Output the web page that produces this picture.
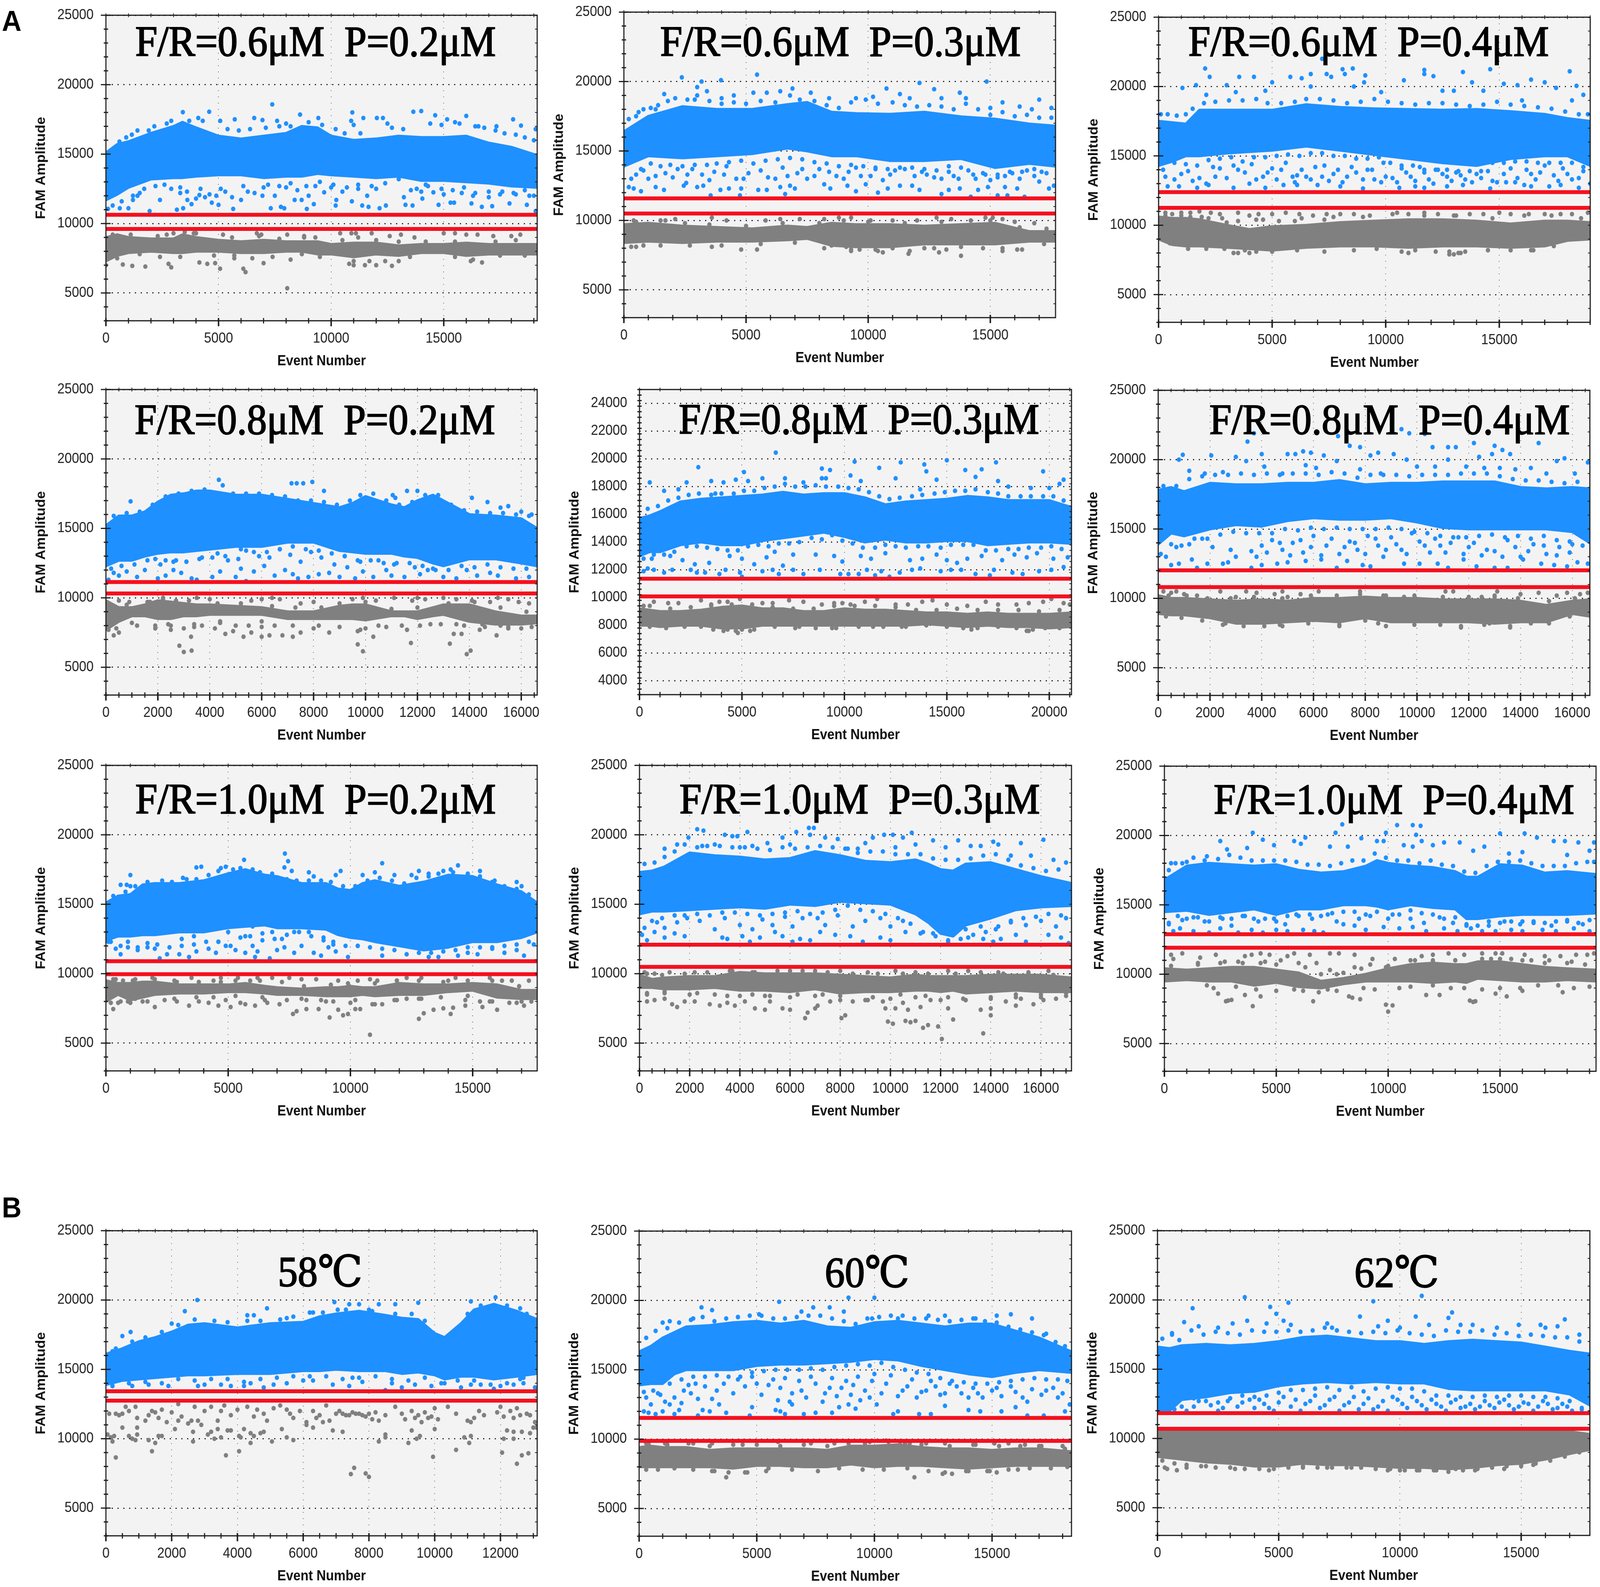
<!DOCTYPE html>
<html>
<head>
<meta charset="utf-8">
<title>FAM Amplitude</title>
<script src="https://cdn.jsdelivr.net/npm/chart.js@4"></script>
<style>
  html, body { margin: 0; background: #fff; overflow: hidden; }
  #page { position: relative; width: 4411px; height: 4062px; overflow: hidden; transform-origin: 0 0; }
  #page canvas { position: absolute; display: block; }
  .label { position: absolute; font: 110px "Liberation Serif", "DejaVu Serif", serif; color: #000; white-space: pre; -webkit-text-stroke: 2.5px #000; }
  .letter { position: absolute; font: bold 75px "Liberation Sans", sans-serif; color: #000; }
</style>
</head>
<body>
<div id="page"></div>
<script>
// values, panel by panel (dense cloud = top/low edges, the rest = single droplets)
const p1Title = 'F/R=0.6μM  P=0.2μM';
const p1Gates = [10630, 9610];
const p1Events = [0,500,1000,2000,3000,3400,4000,5000,6000,7000,8000,8700,9400,10000,11000,12000,13000,14000,15000,16000,17000,18000,19150];
const p1BlueTop = [15100,15700,15900,16500,17000,17300,16900,16300,16100,16300,16500,17000,16900,16300,16000,16100,16300,16200,16200,16300,15800,15500,14900];
const p1BlueLow = [11700,12100,12600,13200,13300,13300,13400,13500,13500,13300,13400,13400,13600,13500,13400,13300,13400,13100,13100,13000,12900,12700,12600];
const p1GrayTop = [9000,9200,9000,8900,8900,9200,9000,8800,8700,8800,8700,8700,8700,8500,8600,8600,8400,8500,8500,8600,8500,8500,8500];
const p1GrayLow = [7300,7700,7900,8000,7900,7900,8000,8000,7900,7900,8000,8000,7800,7800,7600,7800,7700,7900,7900,7700,7800,7800,7800];
const p1BlueEdge = [[600,15900],[900,16200],[1150,16400],[1400,16700],[1900,16700],[2150,17000],[2700,17200],[2900,17400],[3700,17400],[4300,17400],[5400,16800],[5900,16700],[6400,16800],[7100,16900],[7700,17000],[8000,17200],[8200,17000],[9000,17300],[9600,17100],[10200,16800],[10600,16500],[11300,16500],[12500,17200],[12700,16900],[13200,16800],[14400,17200],[14900,17100],[15700,17200],[16400,17000],[16800,16900],[17300,16700],[17700,16500],[18200,16400],[18600,16200],[19000,16000],
  [300,11300],[700,11600],[1200,11700],[1400,12000],[1700,12500],[2200,12700],[2600,12800],[3300,12600],[3600,12300],[4200,12500],[4600,12100],[5100,12500],[5600,11900],[6100,12700],[6600,12200],[7200,12800],[7700,12700],[8200,12900],[8900,12700],[9500,13000],[10100,12800],[10700,12600],[11200,12800],[11800,12700],[12400,12900],[13000,13200],[13800,12500],[14200,12800],[14900,12500],[15400,12400],[15900,12600],[16400,12200],[17000,12300],[17500,12100],[18100,12200],[18600,12400],[19000,12000]];
const p1GrayEdge = [[300,9200],[1100,9200],[2300,9100],[3000,9300],[4000,9300],[5600,9000],[6800,9100],[7700,8900],[8800,9000],[9300,9000],[10500,8800],[11200,9000],[12000,8800],[13000,8700],[14200,8700],[15500,8700],[17300,8700],[18200,8800],
  [500,7500],[1500,7800],[2400,7600],[3300,7600],[4800,7700],[5700,7700],[7400,7600],[8700,7800],[9500,7600],[11000,7300],[11700,7300],[12400,7300],[13500,7600],[15500,7600],[16300,7400],[17500,7700],[18600,7700]];
const p1BlueDots = [[7385,18580],[3415,18020],[4585,18050],[5075,17400],[5720,17500],[6585,17600],[6950,17450],[8620,17850],[9430,17600],[10940,18000],[11430,17600],[10890,17400],[12030,17600],[12300,17600],[13650,18050],[14000,18100],[14620,17800],[15150,17500],[16000,17750],[18080,17500],[18430,17050],[19080,16800],[17340,17000],[16540,17000],[4100,17600],[7600,17400],[11000,17100],[15500,17300],
  [90,11050],[615,11100],[1000,11100],[1940,10900],[3150,11000],[3430,11100],[3615,11700],[4150,12050],[4700,11500],[5000,11350],[5650,11050],[6950,12000],[7320,11100],[7770,11200],[7920,11100],[8380,11700],[8690,11700],[8920,11050],[9230,11400],[9690,12250],[10230,11700],[10200,11300],[10920,11600],[11380,11300],[11660,11200],[12150,11100],[12430,11300],[13230,11900],[13300,11350],[13615,11300],[13540,12400],[14000,12300],[14050,11800],[14770,11350],[14540,12250],[15300,11500],[15460,11500],[16230,11450],[16690,11200],[17150,11250],[17920,11450],[18690,11350],[19080,10900],
  [1200,12000],[1500,12200],[2400,11700],[2900,12500],[3300,12200],[3800,11400],[4000,11800],[4400,11900],[4900,12000],[5300,12300],[6000,11700],[6300,12300],[7000,12600],[7500,12000],[8000,12600],[8500,12400],[9000,12000],[9300,12700],[10000,12600],[10500,12300],[11200,12500],[11600,12000],[12000,12500],[14300,12700],[15000,12100],[15800,12200],[16300,12000],[17000,11900],[17600,12300],[18200,12100],[18800,12000]];
const p1GrayDots = [[8050,5340],[6100,6750],[6200,6500],[5070,6750],[2900,6850],[2780,7100],[1170,6950],[750,7050],[1750,6900],[0,7000],[4150,7200],[4500,7100],[4850,7150],[7000,7150],[11000,7000],[11500,7000],[12000,7000],[12700,6950],[13000,7300],[10800,7100],[16200,7300],[16700,7200],[5700,7500],[6500,7500],[8200,7400],
  [3500,9400],[3900,9300],[4000,9300],[6700,9300],[6900,9200],[8050,9200],[8800,9100],[10400,9300],[10900,9300],[11100,9300],[11800,9300],[12600,9100],[13100,9200],[13700,9000],[15000,9300],[15500,9300],[16000,9200],[16500,9200],[17200,9100],[18000,9100],[18400,9200],[2700,9200],[5200,9200]];

const p2Title = 'F/R=0.6μM  P=0.3μM';
const p2Gates = [11590, 10495];
const p2Events = [0,1000,2400,3800,5250,6700,7500,8500,9500,10900,12300,13800,15200,16600,17670];
const p2BlueTop = [16400,17500,18200,18000,18000,18350,18500,17800,17700,17650,17800,17470,17300,16950,16800];
const p2BlueLow = [13900,14650,14500,14650,14800,15200,15000,14650,14650,14300,14300,14450,13800,14100,13900];
const p2GrayTop = [9700,9800,9600,9500,9400,9600,9500,9800,9700,9700,9600,9700,9800,9200,9200];
const p2GrayLow = [8400,8500,8400,8500,8500,8600,8700,8200,8100,8100,8300,8300,8300,8500,8500];
const p2BlueEdge = [[200,17300],[500,17500],[800,18000],[1100,18100],[1400,18300],[1800,18600],[2100,18800],[2600,18700],[3000,19000],[3500,18600],[4000,18400],[4500,18500],[5000,18400],[5600,18600],[6200,18500],[6800,19000],[7200,18700],[7800,18600],[8300,18300],[8800,18100],[9300,18500],[9900,18700],[10400,18400],[11000,18500],[11500,18300],[12000,18200],[12500,18300],[13000,18200],[13500,18000],[14000,18400],[14500,18000],[15000,17600],[15500,17800],[16000,17500],[16500,17600],[17000,17400],[17500,17400],
  [300,13000],[700,13700],[1100,14100],[1500,13900],[1900,14000],[2400,13900],[2900,14000],[3400,14000],[3800,14100],[4300,14200],[4800,14300],[5300,14100],[5800,14300],[6300,14400],[6800,14500],[7300,14400],[7800,14200],[8300,14100],[8800,13900],[9300,14000],[9800,13900],[10300,13700],[10800,13700],[11300,13800],[11800,13800],[12300,13700],[12800,13600],[13300,13900],[13800,13800],[14300,13300],[14800,13300],[15300,13300],[15800,13500],[16300,13500],[16800,13700],[17300,13400]];
const p2GrayEdge = [[500,9900],[1500,10000],[2500,9800],[3500,9700],[5000,9600],[6500,9800],[8000,9800],[9000,10000],[10000,9900],[11500,9800],[13000,9900],[14200,10000],[15000,10000],[16200,9500],[17300,9400],
  [300,8100],[800,8200],[1500,8200],[2700,8200],[4000,8200],[5600,8300],[7000,8400],[8200,8000],[9300,7900],[10400,7800],[11700,7800],[12700,8000],[13800,8100],[14700,8000],[15500,8000],[16300,7900],[17200,8300]];
const p2BlueDots = [[2370,20300],[3180,20000],[3975,20100],[5450,20500],[14850,20000],[12100,19900],[3000,19600],[10750,19500],[12700,19450],[6900,19500],[1650,19100],[3400,19300],[4000,18800],[5300,19200],[6400,19300],[7650,19200],[8400,18800],[10200,18900],[11300,19100],[13750,19200],[15500,18500],[17000,18700],[14000,18800],[9500,18800],[600,17800],[1300,18000],[2900,18700],[4500,19000],[5850,19200],[11700,18800],[13000,18800],[15000,18100],[16200,18200],[16700,18000],[17500,18100],
  [200,12400],[400,12300],[700,12100],[1300,12400],[1640,12200],[2450,12500],[2550,12700],[3000,12400],[3250,12500],[3550,11800],[3950,12200],[4300,12300],[4750,11800],[4800,12300],[5500,12200],[5850,12200],[6400,12400],[6600,11900],[6800,12500],[7000,12300],[8200,12600],[8450,12300],[9150,12500],[9500,12100],[9900,12600],[10400,12000],[10800,12300],[11300,12500],[11800,12500],[12100,12200],[13000,11900],[13300,12200],[13750,12300],[14200,11700],[14500,12200],[14900,12400],[15300,11800],[15600,12400],[15700,11800],[16100,12300],[16400,11700],[17400,12300],[17600,12500],[17000,12800],
  [500,13300],[800,13600],[1000,13000],[1700,13400],[2200,13700],[2800,13700],[3200,13300],[3700,13500],[4200,13900],[4600,13000],[5100,13400],[5600,13600],[6200,13000],[6500,13800],[7100,13400],[7500,13000],[8000,13700],[8700,13200],[9200,13500],[9700,13200],[10300,13800],[10900,13300],[11500,13700],[12200,13500],[12700,13100],[13300,13500],[13700,13000],[14100,13600],[14700,13400],[15300,13100],[15900,13400],[16500,13600],[17100,13500],
  [1300,13200],[2000,13100],[2600,13300],[3500,12900],[4100,13300],[4900,13000],[5900,13100],[6700,13200],[7300,13700],[7800,13200],[8400,13500],[9000,13000],[9500,13800],[10100,13200],[10600,12900],[11100,13600],[11900,13200],[12400,13300],[13000,13000],[13500,13200],[14400,13000],[15000,12900],[15600,13200],[16200,13000],[16800,13200]];
const p2GrayDots = [[13800,7450],[11650,7600],[10600,7700],[10300,7900],[9300,7800],[9650,7900],[15500,7800],[16100,7900],[12900,7700],[13200,7900],[5450,7900],[4800,7900],[500,8100],[3600,8100],[11000,8000],[9100,8100],[8500,8200],[12300,8000],
  [400,10000],[1700,10000],[2100,10100],[3600,10200],[4200,10000],[5800,10000],[6400,10100],[7200,10100],[8200,10100],[8800,10200],[9300,10200],[10100,10000],[11000,10000],[12000,10000],[12800,10200],[13400,10100],[14800,10200],[15100,10200],[15500,10100],[16000,9900],[16800,9800]];

const p3Title = 'F/R=0.6μM  P=0.4μM';
const p3Gates = [12385, 11254];
const p3Events = [0,600,1200,1800,3000,4000,5000,6500,8000,9500,11000,12500,14000,15500,17000,18000,19003];
const p3BlueTop = [17500,17400,17300,18300,18300,18300,18300,18700,18500,18400,18350,18300,18350,18200,18000,17700,17500];
const p3BlueLow = [14300,14600,15000,15000,15200,15300,15400,15700,15400,15100,14800,14500,14300,14800,15000,15000,14300];
const p3GrayTop = [10600,10500,10500,10400,10000,9700,9900,10000,10200,10300,10400,10400,10300,10100,10300,10300,10200];
const p3GrayLow = [9000,8600,8500,8500,8400,8300,8200,8400,8500,8500,8400,8500,8500,8400,8500,8900,9000];
const p3BlueEdge = [[100,18000],[400,18000],[800,17900],[1200,18000],[1500,18400],[2000,18800],[2500,18900],[3100,19000],[3700,19000],[4300,19100],[4800,18800],[5400,18800],[6000,18900],[6500,19100],[7100,19100],[7700,19000],[8300,18800],[8900,18900],[9500,19100],[10100,18900],[10700,18800],[11300,18700],[11900,18800],[12500,18800],[13100,18700],[13700,18600],[14300,18700],[14900,18900],[15500,18700],[16100,18600],[16700,18500],[17300,18400],[17900,18200],[18500,18000],[18900,18000],
  [200,14000],[700,14500],[1200,14400],[1700,14300],[2200,14700],[2700,14800],[3200,14900],[3700,14600],[4200,14900],[4700,14900],[5200,15000],[5700,15100],[6200,15000],[6700,15200],[7200,15200],[7700,15000],[8200,15000],[8700,14800],[9200,14800],[9700,14900],[10200,14500],[10700,14300],[11200,14300],[11700,14000],[12200,14000],[12700,14000],[13200,13900],[13700,13900],[14200,13900],[14700,14500],[15200,14500],[15700,14600],[16200,14600],[16700,14500],[17200,14500],[17700,14500],[18200,14500],[18700,14200]];
const p3GrayEdge = [[300,10700],[1000,10700],[1900,10600],[2800,10500],[4600,10400],[6300,10500],[7700,10600],[9000,10600],[10300,10800],[11700,10700],[13100,10700],[14700,10500],[16100,10700],[17300,10700],[18600,10500],
  [500,8700],[1300,8300],[2100,8300],[2900,8300],[3500,8000],[4300,8100],[5000,8100],[6100,8200],[7300,8100],[8600,8200],[9600,8300],[10700,8100],[11300,8200],[12800,7900],[13300,8000],[14500,8200],[15500,8200],[16500,8200],[17400,8500]];
const p3BlueDots = [[2050,21300],[7200,22000],[8100,21250],[8550,21300],[11700,21200],[13400,21050],[14600,21250],[18100,21100],[2250,20700],[3550,20700],[4200,20700],[5800,20700],[7400,20900],[6700,20900],[9100,20800],[10800,20450],[12100,20750],[16400,20500],[17000,20300],[18400,20050],[1650,20100],[1050,19900],[3000,20100],[5000,20300],[6300,20600],[7600,20700],[8200,20900],[8600,20000],[9050,20300],[11700,20900],[13800,20300],[15200,20200],[15800,20100],[17500,19900],[18700,19400],[2100,19400],[3400,19600],[4700,19700],[6700,20000],[9800,19600],[12500,19700],[13000,19700],[14300,19700],[16000,19000],[18200,19000],
  [400,12800],[900,12800],[1700,12700],[2200,12900],[3300,12700],[4700,12700],[5500,12900],[6000,13100],[6100,12900],[7000,12900],[8000,12800],[9000,12650],[9800,13100],[10600,12700],[11300,12800],[11700,12700],[12700,12800],[13400,12900],[14600,12650],[15300,13100],[16100,12900],[16400,12800],[17200,12800],[17700,12900],[18500,12700],[19000,13000],
  [300,13500],[700,13300],[1000,13700],[1300,13900],[1800,13400],[2100,13000],[2500,13500],[2700,14100],[3000,13400],[3300,14300],[3800,13800],[4100,14400],[4300,13300],[4600,13500],[5000,14100],[5200,13300],[5600,14500],[5900,13500],[6300,14000],[6500,13500],[6900,14200],[7200,13500],[7500,13200],[7900,14000],[8300,13500],[8700,13800],[9200,14000],[9500,13300],[9900,14500],[10300,13400],[10700,14100],[11100,13500],[11500,14200],[11900,13300],[12300,14000],[12700,13500],[13100,13800],[13500,13300],[14000,13700],[14500,13900],[14900,13100],[15500,14100],[15800,13400],[16200,14000],[16600,13300],[17000,14300],[17400,13600],[17800,14100],[18200,13300],[18700,13900],
  [1500,13200],[2400,14200],[3500,14000],[4000,13000],[4800,13800],[5400,14000],[6100,13600],[6700,13300],[7300,14300],[7700,13700],[8100,13100],[8500,14200],[9000,13300],[9400,14000],[10000,13500],[10500,13100],[10900,13800],[11300,13200],[11700,13800],[12100,13000],[12500,13700],[12900,13200],[13300,13600],[13800,13100],[14200,13400],[14700,13200],[15200,13700],[15700,13100],[16400,13700],[16800,13800],[17600,13200],[18000,13700],[18500,13400]];
const p3GrayDots = [[3300,8000],[3800,8200],[4000,8000],[13000,7900],[13200,8000],[11000,8000],[12200,8100],[13500,8100],[12800,8100],[16400,8200],
  [300,10900],[600,10800],[1000,10900],[1400,10900],[1800,11000],[2300,10900],[2700,10800],[3500,10900],[4000,10700],[4400,10800],[5000,10800],[5600,10900],[6200,10800],[6800,10700],[7400,10800],[8000,10800],[8600,10800],[9300,10700],[10500,10900],[11000,10800],[11700,10900],[12300,10800],[13000,10700],[13700,10800],[14300,10800],[15000,10900],[15500,10800],[16300,10800],[17000,10800],[17700,10800],[18200,10800],[18900,10900],
  [800,10300],[1400,10600],[2200,10500],[3000,10200],[3500,10300],[4300,10400],[5300,10300],[6000,10300],[7300,10400]];

const p4Title = 'F/R=0.8μM  P=0.2μM';
const p4Gates = [11140, 10315];
const p4Events = [0,500,1000,1500,2000,2500,3000,3500,4000,5000,6000,7000,8000,9000,9500,10000,11000,11500,12000,12600,13000,14000,15000,16000,16615];
const p4BlueTop = [15200,15900,15900,16200,16900,17400,17500,17700,17700,17400,17400,17100,16800,16500,16800,17300,16700,16500,17000,17400,17000,16000,15900,15700,15000];
const p4BlueLow = [12300,12700,12700,13000,13200,13300,13300,13400,13500,13700,13700,14000,14000,13400,13300,13200,13200,13000,12900,12500,12300,12800,12800,12500,12300];
const p4GrayTop = [9800,9300,9300,9500,9800,9700,9600,9500,9500,9400,9300,9000,9000,9400,9500,9500,9000,9000,9000,9300,9500,9500,9000,8700,8700];
const p4GrayLow = [7700,8300,8700,8700,8500,8500,8700,8700,8800,8800,8800,8500,8500,8500,8500,8400,8700,8700,8500,8700,8800,8300,8100,8100,8200];
const p4BlueEdge = [[300,15900],[800,16100],[1300,16200],[1800,16700],[2300,17300],[2800,17500],[3300,17700],[3800,17800],[4400,17500],[4900,17500],[5400,17500],[5900,17500],[6400,17400],[6900,17300],[7400,17000],[7900,17000],[8400,16900],[8900,16700],[9400,17000],[9800,17400],[10300,17500],[10800,17000],[11300,16700],[11800,16900],[12300,17400],[12800,17400],[13300,16700],[13800,16300],[14300,16200],[14800,16100],[15300,16100],[15800,16000],[16300,15900],
  [200,12100],[600,12300],[1100,12400],[1600,12700],[2100,12400],[2600,12600],[3100,12600],[3600,12800],[4100,12900],[4600,13000],[5200,13500],[5700,13300],[6200,13300],[6700,13500],[7200,13700],[7700,13500],[8200,13400],[8700,13200],[9200,13000],[9700,12700],[10200,12700],[10700,12500],[11200,12500],[11700,12500],[12200,12300],[12700,12000],[13200,12000],[13700,12300],[14200,12200],[14700,12400],[15200,12200],[15700,12100],[16200,12100]];
const p4GrayEdge = [[800,9500],[1600,9700],[2200,9900],[3200,9800],[4300,9600],[5200,9600],[6400,9400],[7300,9300],[8300,9300],[9000,9600],[10000,9700],[11000,9200],[12000,9300],[13200,9600],[14200,9700],[15200,9300],[16200,9000],
  [400,7800],[1000,8200],[1900,8000],[2500,8000],[3400,8100],[4400,8300],[5000,8000],[6000,8300],[7200,8000],[8200,8000],[9000,7900],[9800,7700],[10500,8000],[11400,8000],[12500,8100],[13500,8100],[14600,7900],[15500,7900],[16400,7900]];
const p4BlueDots = [[4350,18500],[4500,18100],[7150,18250],[7350,18250],[7600,18250],[7950,18350],[8400,17700],[950,16950],[11150,17200],[11050,17400],[11600,17700],[12000,17700],[14100,17200],[14700,16900],[15200,16500],[15500,16600],[16000,16200],[16400,16000],
  [100,11300],[300,11800],[500,11600],[800,11900],[1200,11500],[1500,12000],[2000,11400],[2300,11600],[2600,12000],[2900,11800],[3300,11400],[3500,11300],[4100,11500],[4400,11900],[5000,11500],[5200,12100],[5400,11200],[5700,11900],[6100,12300],[6500,11600],[6900,12000],[7200,11700],[7400,11400],[7800,11500],[8200,11700],[8600,11800],[9000,11500],[9300,12200],[9600,11400],[9900,11900],[10300,11500],[10800,12000],[11000,11600],[11500,11500],[12100,11700],[12400,12000],[13000,11500],[13500,11400],[13900,12000],[14300,11600],[14800,11800],[15100,11600],[15800,11400],[16300,11500],
  [1900,12800],[2300,12700],[2700,12700],[3100,12600],[3700,12900],[4300,13200],[4700,12700],[5100,12800],[5400,13400],[5900,13000],[6300,12900],[6700,13500],[7100,13100],[7500,12600],[7900,13300],[8300,12900],[8800,12400],[9200,13000],[9800,12600],[10500,12700],[11100,12400],[11900,12200],[12600,12100]];
const p4GrayDots = [[3000,6100],[2830,6550],[3300,6200],[3280,7200],[9700,6650],[9900,6150],[10300,7200],[11750,6750],[13250,6700],[13900,5950],[14050,6200],[15050,7300],[300,7300],[100,7700],[500,7500],[2500,7700],[3000,7800],[3700,8000],[4200,7800],[4600,7400],[4900,7600],[5300,7200],[5600,7500],[6000,7200],[6300,7300],[6800,7300],[7200,7200],[7500,7500],[8000,7800],[8600,7500],[9700,7600],[10000,7800],[11600,7700],[13400,7400],[13700,7400],[14400,7700],[15500,7800],[16000,7800],
  [500,9800],[900,9700],[1700,9700],[2200,10000],[2700,9800],[3500,10000],[4000,9900],[5600,9800],[6000,9900],[6400,10000],[6700,9900],[7500,9600],[8000,9700],[9500,9900],[9900,10000],[10400,9800],[11100,10000],[11800,9800],[12000,10000],[12300,9900],[13000,10000],[13500,9900],[14100,9800],[14800,9700],[15100,10000],[15500,9900],[15900,9700],[16300,9600],
  [1200,8000],[1900,7800],[2400,8100],[3400,7900],[4400,8200],[5500,8000],[6000,7900],[6500,8000],[10800,7900],[12100,8000],[12900,8100],[13800,8000],[14500,8100],[15200,8000]];

const p5Title = 'F/R=0.8μM  P=0.3μM';
const p5Gates = [11360, 10088];
const p5Events = [0,500,1000,2000,3000,4000,5000,6000,7000,8000,9000,10000,11000,12000,13000,14000,15000,16000,17000,18000,19000,20000,21085];
const p5BlueTop = [15700,15900,16200,16900,17100,17200,17300,17400,17600,17400,17500,17500,17200,16700,16900,17000,17100,17300,17200,17000,17000,17000,16500];
const p5BlueLow = [13000,13300,13300,13800,14000,13800,13800,14100,14300,14500,14700,14400,14000,14200,14000,14000,14100,14100,13800,13900,14000,14000,13900];
const p5GrayTop = [9200,9100,9000,9000,9100,9300,9400,9200,9200,9000,9000,9200,9100,9100,9000,8900,8900,8800,8900,8800,8800,8800,8900];
const p5GrayLow = [8000,8000,7900,8000,8000,7800,7800,8000,8000,8000,8000,8000,8000,8000,8000,8100,8000,7900,8000,7900,7900,7800,7900];
const p5BlueEdge = [[400,16400],[900,16600],[1400,17000],[1900,17200],[2400,17400],[2900,17500],[3500,17400],[4000,17500],[4600,17500],[5100,17700],[5600,17700],[6100,17900],[6600,18000],[7100,18200],[7600,18000],[8100,18000],[8600,18100],[9100,18000],[9700,18000],[10200,17900],[10700,17800],[11200,17600],[11700,17300],[12200,17100],[12700,17200],[13300,17300],[13800,17400],[14400,17500],[14900,17600],[15400,17700],[15900,17700],[16400,17800],[17000,17600],[17500,17500],[18000,17300],[18600,17300],[19100,17300],[19700,17300],[20200,17300],[20700,17000],
  [200,12800],[700,13100],[1200,13100],[1700,13300],[2300,13700],[2800,13700],[3300,13600],[3800,13500],[4300,13400],[4800,13400],[5300,13700],[5800,13800],[6300,13700],[6800,13900],[7300,13900],[7800,14000],[8400,14300],[8900,14200],[9400,14500],[9900,14100],[10400,13900],[10900,13600],[11500,13600],[12000,13800],[12500,13700],[13000,13600],[13600,13700],[14100,13700],[14700,13600],[15200,13800],[15800,13800],[16300,13800],[16900,13400],[17400,13400],[18000,13500],[18500,13500],[19000,13600],[19600,13600],[20100,13700],[20600,13500]];
const p5GrayEdge = [[500,9400],[1500,9200],[2500,9300],[3500,9400],[4500,9500],[5500,9500],[6500,9300],[7500,9200],[8500,9200],[9500,9400],[10500,9400],[11500,9400],[12500,9300],[13500,9100],[14500,9100],[15500,9200],[16500,9100],[17500,9100],[18500,9100],[19500,9000],[20500,9100],
  [500,7900],[1300,7800],[2200,7900],[3000,7900],[3600,7700],[4300,7700],[4700,7600],[5600,7700],[6600,7900],[7600,7800],[8600,7800],[9600,7800],[10700,7900],[11900,7900],[12800,7900],[14000,8000],[15000,7900],[15800,7800],[16500,7800],[17500,7900],[18400,7800],[19000,7600],[19800,7800],[20500,7800]];
const p5BlueDots = [[6650,20450],[2870,19400],[5100,19050],[10500,19800],[11700,19350],[12750,19750],[13900,19600],[14000,19100],[15000,19900],[15900,19200],[16700,19250],[17400,19750],[19700,19100],[8900,19300],[9300,19200],[10300,18800],[500,18300],[2300,18300],[3500,18400],[4100,18300],[4700,18500],[5300,18400],[6000,18600],[7100,18600],[8000,18300],[8900,18600],[9100,18600],[10800,18400],[12500,18600],[14500,18500],[16400,18700],[17500,18400],[20700,18500],[20500,18200],[1200,17700],[1900,17800],[3700,17500],[13700,17800],[18000,18000],[19100,17900],[20000,17900],
  [200,11900],[400,12100],[700,12000],[1200,11800],[1600,12000],[2500,12000],[2800,11800],[3200,11800],[3900,11700],[4200,12000],[4900,11800],[5000,11500],[6000,11900],[6500,12000],[6800,11700],[7500,12000],[8000,11700],[8800,12000],[9800,11700],[10200,11700],[10700,11700],[11100,12000],[11500,11600],[11800,11900],[12200,11500],[12700,11800],[13300,12000],[13700,12100],[14700,11900],[15200,12000],[15700,12000],[16400,11700],[17100,11600],[17300,12000],[18200,11800],[18700,11700],[19500,11900],[20100,12000],[20700,12200],
  [600,12800],[1500,13000],[2100,12700],[2700,12400],[3400,12500],[4400,13000],[5000,12800],[5600,12400],[6200,12900],[6600,13300],[7000,12300],[7500,13100],[8600,13100],[9500,13000],[9900,12600],[10800,13000],[11300,12800],[12000,13200],[13200,12700],[13800,12800],[14500,13100],[15000,12700],[15500,12500],[16000,12800],[16700,13000],[17700,12700],[18300,13100],[18900,12900],[19400,13200],[20200,12800],[20900,12900]];
const p5GrayDots = [[4800,7450],[4100,7600],[5400,7600],[5000,7700],[7800,7900],[9400,7800],[16200,7700],[18900,7600],[19200,7700],[13000,7900],[11400,7900],
  [200,9400],[700,9700],[1400,9600],[1900,9600],[3000,9800],[3500,9500],[3900,9700],[4300,9700],[4900,9900],[6000,9600],[6500,9600],[7300,9800],[8000,9700],[8900,9500],[9500,9600],[9900,9600],[10300,9500],[11000,9700],[11600,9900],[12500,9500],[13100,9500],[13800,9700],[14300,9800],[15000,9500],[16000,9400],[16900,9700],[17500,9500],[18400,9500],[19000,9600],[19700,9700],[20100,9900],[20700,9600],[21000,9500]];

const p6Title = 'F/R=0.8μM  P=0.4μM';
const p6Gates = [12020, 10807];
const p6Events = [0,500,1000,2000,3000,4000,5000,6000,7000,8000,9000,10000,11000,12000,13000,14000,15000,16000,16679];
const p6BlueTop = [17800,18000,17700,18300,18200,18200,18300,18300,18500,18200,18300,18300,18400,18400,18400,18000,17900,18000,17900];
const p6BlueLow = [13900,14700,14500,15000,15300,15200,15600,15800,15700,15700,15800,15500,15100,15000,15000,15000,15000,14800,14000];
const p6GrayTop = [10200,10000,10000,9900,9800,9900,9800,10000,10000,10100,10000,10000,9900,9900,9900,9800,9500,9800,9900];
const p6GrayLow = [8900,8800,8800,8600,8200,8200,8300,8400,8300,8600,8300,8300,8300,8300,8200,8300,8300,8900,8700];
const p6BlueEdge = [[200,18100],[700,18100],[1200,18600],[1700,18800],[2200,18900],[2700,18900],[3200,19000],[3700,18900],[4200,19000],[4700,18900],[5200,19000],[5700,19000],[6200,18900],[6700,19100],[7200,19000],[7700,18700],[8200,18900],[8700,18900],[9200,18900],[9700,18800],[10200,18900],[10700,18900],[11200,18900],[11700,19000],[12200,19000],[12700,19000],[13200,18800],[13700,18600],[14200,18500],[14700,18500],[15200,18400],[15700,18300],[16200,18400],
  [100,13200],[500,13900],[900,13800],[1400,14300],[1900,14300],[2400,14600],[2900,14800],[3400,14700],[3900,14700],[4400,14700],[4900,15000],[5400,14900],[5900,15100],[6400,15000],[6900,15100],[7400,15000],[7900,15000],[8400,15000],[8900,15100],[9400,15000],[9900,14800],[10400,14700],[10900,14500],[11400,14400],[11900,14400],[12400,14500],[12900,14600],[13400,14400],[13900,14500],[14400,14300],[14900,14500],[15400,14200],[15900,14100],[16400,13800]];
const p6GrayEdge = [[400,10200],[1100,10200],[1900,10000],[2800,10000],[3700,10100],[4800,10000],[5900,10200],[6900,10200],[7800,10300],[8800,10200],[9900,10200],[11000,10100],[12000,10100],[13000,10100],[13900,10000],[15100,9800],[16100,10000],
  [300,8700],[900,8600],[1700,8400],[2500,8100],[3300,8000],[4100,8000],[4800,8000],[5800,8200],[7000,8000],[8000,8400],[8800,8000],[9900,8100],[10900,8100],[11700,8000],[12600,8100],[13600,7900],[14400,8200],[15100,8200],[15900,8700]];
const p6BlueDots = [[3700,21900],[3450,21300],[6950,21700],[7400,21000],[7800,20900],[9400,22200],[9700,21900],[10300,21850],[12200,21200],[14700,21200],[10600,20900],[11200,20900],[11500,20900],[13000,21000],[13300,20700],[8200,20300],[8500,20500],[950,20350],[2050,20300],[3000,20200],[4000,20400],[5000,20400],[5300,20400],[5600,20600],[5900,20500],[6400,20300],[9100,20400],[12400,20200],[12900,20400],[13600,20400],[15700,20100],[15400,19900],[16600,19800],
  [800,20000],[1200,19200],[1800,19000],[2500,19100],[3400,19900],[4100,19500],[4800,19000],[5700,19600],[6100,19400],[6900,19900],[7800,19300],[8600,19000],[9600,20000],[10000,19500],[10700,19500],[11200,20000],[11900,19500],[12600,19400],[13200,19400],[13800,19300],[14400,19400],[15000,19000],[16100,19000],
  [300,13000],[500,12400],[800,12500],[1300,12800],[1500,12200],[1900,12500],[2100,13700],[2500,12500],[2700,12600],[3000,13000],[3600,12200],[4000,12400],[4600,12500],[5000,12600],[5700,12700],[6300,12800],[6900,12200],[7300,12700],[7900,12400],[8200,12300],[8700,13000],[9500,12500],[10100,12500],[10800,12500],[11200,12200],[11800,12800],[12300,12300],[13000,12200],[13500,12200],[14100,12800],[14800,12500],[15300,12400],[15800,12300],[16200,12600],[16600,12500],
  [700,13700],[1200,13900],[1700,14300],[2800,13500],[3600,13400],[4000,13800],[4400,14200],[4800,13500],[5200,14000],[5600,13300],[6000,14500],[6500,13800],[7000,13200],[7400,14100],[7700,13500],[8100,14500],[8500,13800],[9000,14400],[9400,13500],[9800,14700],[10300,13800],[10700,14300],[11100,13300],[11600,14400],[12000,13700],[12500,13100],[13000,13400],[13500,14200],[14000,13000],[14500,13900],[15000,13200],[15500,13700],[16000,13900],
  [3800,13000],[4200,13300],[4700,14000],[5100,13100],[5500,14200],[5900,13700],[6300,13100],[6700,14300],[7200,13700],[7600,14000],[8000,13200],[8400,14300],[8800,13500],[9200,13900],[9600,13200],[10100,14100],[10500,13300],[10900,13800],[11300,14000],[11800,13200],[12200,14000],[12700,13500],[13300,13000],[13800,13700],[14300,13400],[14900,13800],[15400,13100],[15900,13300]];
const p6GrayDots = [[11700,7900],[13600,8000],[7000,8100],[4700,8100],[8500,8200],[2600,8200],[12800,8200],
  [200,10500],[500,10400],[700,10500],[1000,10300],[1500,10200],[2400,10500],[3400,10500],[3800,10400],[4500,10300],[4800,10500],[5500,10300],[6200,10500],[7800,10500],[8700,10200],[11100,10500],[11400,10500],[13100,10500],[14000,10300],[14700,10400],[15400,10200],[15800,10400],[16300,10300],[16600,10400],[3000,10100],[5000,10100],[9500,10100],[12500,10100],[13000,10200]];

const p7Title = 'F/R=1.0μM  P=0.2μM';
const p7Gates = [10895, 9965];
const p7Events = [0,500,1000,1500,2000,3000,4000,5000,5700,6500,7000,8000,9000,9500,10000,10500,11000,12000,13000,14000,15000,16000,17000,17640];
const p7BlueTop = [15100,15600,15700,16400,16500,16500,16700,17200,17500,17100,17000,16500,16500,16100,16000,16500,16700,16300,16600,17100,17000,16400,15900,15100];
const p7BlueLow = [12400,12700,12700,12800,12800,13000,13000,13300,13400,13500,13300,13300,13200,12800,12600,12500,12300,12000,11700,11900,12300,12300,12600,13000];
const p7GrayTop = [9500,9300,9300,9400,9400,9200,9200,9200,9300,9100,9000,8900,9000,9000,9100,9000,9000,9300,9200,9200,9300,9200,8800,8800];
const p7GrayLow = [8000,8500,8100,8300,8500,8600,8600,8700,8700,8600,8500,8500,8400,8400,8400,8500,8400,8500,8500,8700,8800,8300,8200,8200];
const p7BlueEdge = [[300,15600],[800,15900],[1200,16300],[1700,16600],[2300,16700],[2700,16600],[3300,16800],[3700,16800],[4200,17100],[4600,17400],[5200,17500],[5500,17600],[6000,17500],[6300,17300],[6800,17200],[7400,16800],[7800,16700],[8300,16700],[8800,16700],[9200,16600],[9700,16300],[10200,16300],[10700,16700],[11200,16900],[11700,16700],[12200,16500],[12700,16900],[13200,17000],[13600,17200],[14200,17300],[14800,17200],[15300,17000],[15800,16600],[16300,16300],[16800,16100],[17300,15700],
  [200,12300],[600,12000],[900,11900],[1300,11900],[1700,12200],[2100,12100],[2600,11900],[3100,12000],[3600,12100],[4100,12300],[4600,12300],[5100,12000],[5500,12600],[5900,12700],[6400,12900],[6900,12500],[7400,12800],[7900,13000],[8400,12700],[8900,12600],[9300,12100],[9800,12000],[10300,12000],[10800,11900],[11300,11800],[11800,11700],[12300,11400],[12800,11500],[13300,11500],[13800,11600],[14300,11700],[14800,11900],[15300,11900],[15800,11900],[16300,12000],[16800,12100],[17300,12300]];
const p7GrayEdge = [[400,9600],[1100,9500],[2000,9600],[2900,9400],[3800,9400],[4700,9400],[5300,9500],[6300,9500],[7200,9400],[8100,9100],[9200,9200],[9900,9300],[11000,9300],[11900,9500],[12800,9500],[13800,9400],[14800,9500],[15800,9500],[16900,9100],
  [200,7900],[600,8000],[1000,7900],[1700,8000],[2800,8200],[3700,8300],[4400,8300],[5300,8400],[6400,8300],[7400,8100],[8200,8100],[9000,8000],[10000,7900],[11000,7800],[11800,8100],[12900,8200],[13700,8300],[14800,8400],[15700,8000],[16800,7900],[17400,8000]];
const p7BlueDots = [[7320,18650],[7450,18100],[7300,17650],[7600,17400],[5650,18200],[11300,17950],[3700,17650],[3900,17700],[4700,17600],[4900,17700],[1000,17100],[600,16400],[850,16400],[1000,16300],[3150,16900],[8300,17300],[8500,17000],[9400,17100],[9600,17400],[10500,17100],[11000,17300],[11800,17100],[12500,17100],[12800,17400],[13200,17200],[13800,17400],[14100,17500],[14400,17800],[15300,17400],[15900,16700],[16800,16600],[17000,16300],
  [100,12300],[400,11800],[600,11400],[900,12300],[1300,11700],[1700,11900],[2000,11800],[2200,11100],[2500,11400],[3000,11400],[3400,11200],[3700,11600],[4200,11800],[4500,11500],[4900,12000],[5300,11700],[5700,11500],[6000,12000],[6200,11600],[6100,11200],[6700,11100],[7000,11700],[7300,11900],[7700,11500],[8000,12000],[8500,11500],[8800,11300],[9100,11900],[9400,11600],[9900,11200],[10300,12000],[11300,11300],[13200,11200],[13600,11200],[14400,11300],[14800,11500],[15200,11400],[15800,11800],[16300,11500],[16800,11700],[17100,11300],[17500,12100],
  [3100,12500],[3600,12700],[4600,12300],[5000,13000],[5700,12700],[6000,13400],[6400,12400],[6800,13000],[7200,12500],[7700,13000],[8300,13000],[8900,12400],[9300,12300]];
const p7GrayDots = [[10800,5600],[12800,6750],[13000,7150],[9150,6850],[9700,7000],[9900,7100],[7650,7100],[7800,7300],[8200,7450],[8700,7450],[9500,7400],[10200,7450],[10400,7450],[13400,7400],[13800,7500],[14200,7550],[14100,7100],[14700,7700],[15400,7600],[16000,7400],[300,7450],[2000,7600],[3400,7700],[4600,7700],[5100,7600],[5700,7800],[6100,7700],[6600,7900],[7100,7800],[10900,7800],[11300,7800],[17100,7700],
  [300,9600],[700,9500],[1200,9600],[1900,9700],[2800,9500],[3500,9700],[4400,9500],[4700,9700],[5400,9700],[5900,9500],[6200,9700],[6800,9700],[7500,9700],[8000,9600],[8600,9600],[9500,9500],[10300,9500],[10800,9600],[11100,9500],[11900,9500],[12300,9700],[12900,9700],[14000,9500],[14300,9700],[15700,9700],[16200,9500],[16600,9500],[17300,9500],
  [100,8200],[500,7900],[900,8000],[1200,8200],[1500,8000],[2400,8100],[2900,8000],[3800,8000],[4200,7900],[4900,8100],[5500,7900],[6500,8100],[8000,8200],[8800,8100],[9300,8000],[10200,8100],[11900,8100],[12300,8200],[12800,8200],[14700,8100],[15300,8000],[15800,8000],[16500,7900],[17000,8000]];

const p8Title = 'F/R=1.0μM  P=0.3μM';
const p8Gates = [12088, 10490];
const p8Events = [0,500,1000,2000,3000,4000,5000,6000,7000,8000,9000,10000,11000,11500,12000,12500,13000,14000,15000,16000,17218];
const p8BlueTop = [17300,17400,17700,18700,18500,18400,18200,18300,18800,18500,18100,18000,18200,17900,17500,17400,17900,18000,17500,17000,16500];
const p8BlueLow = [14300,14500,14500,14600,14700,14800,14700,15000,14900,15200,15100,15000,14300,13700,12900,12700,13500,14000,14600,14800,14900];
const p8GrayTop = [9900,9600,9700,9800,9800,10100,10000,10000,10000,9900,9800,9700,9900,9800,9800,9800,9800,9900,9900,9900,9700];
const p8GrayLow = [9000,9000,8900,8900,9000,8800,8800,8700,8900,8600,8700,8700,8800,8800,8700,8800,8600,8700,8800,8700,8700];
const p8BlueEdge = [[200,17900],[600,18000],[1000,18400],[1400,18800],[1800,19300],[2300,19100],[2700,19200],[3200,19200],[3700,19100],[4200,19100],[4700,19000],[5200,18900],[5700,19100],[6200,19000],[6700,19100],[7200,19200],[7700,19100],[8200,19000],[8700,18700],[9200,18800],[9700,18800],[10200,18600],[10700,18600],[11200,18600],[11700,18300],[12200,18200],[12700,18200],[13200,18300],[13700,18500],[14200,18600],[14700,18200],[15200,17800],[15700,17600],[16200,17400],[16700,17500],
  [200,13300],[500,13800],[900,14000],[1400,14200],[1800,14200],[2300,14300],[2800,14200],[3300,14400],[3800,14400],[4300,14300],[4800,14200],[5300,14300],[5800,14400],[6300,14500],[6800,14300],[7300,14400],[7800,14600],[8300,14900],[8800,14600],[9300,14500],[9800,14300],[10300,14000],[10800,13600],[11300,13000],[11800,12700],[12300,12400],[12800,12500],[13300,12800],[13800,13000],[14300,13400],[14800,13800],[15300,14000],[15800,14100],[16300,14300],[16800,14200]];
const p8GrayEdge = [[300,10000],[900,9900],[1800,10000],[2700,10100],[3700,10200],[4600,10100],[5500,10200],[6500,10200],[7500,10100],[8500,10000],[9500,10000],[10500,10000],[11500,10000],[12600,10000],[13600,10100],[14500,10000],[15500,10000],[16500,9900],
  [300,8500],[1000,8600],[2000,8500],[3000,8500],[4000,8400],[5000,8400],[6000,8300],[7000,8400],[8000,8100],[9000,8100],[10000,8200],[11000,8300],[12000,8100],[13000,8100],[14000,8200],[15000,8300],[16000,8300],[17000,8600]];
const p8BlueDots = [[2300,20400],[2550,20300],[4300,20200],[6250,20200],[6750,20500],[6950,20500],[6800,20000],[3400,20000],[3700,19900],[3900,19900],[1950,19800],[7400,19800],[9750,20000],[10100,20000],[10850,20150],[10500,19800],[16100,19650],[5700,19800],[7900,19700],[9300,19800],[11000,19300],[11700,19600],[12700,19600],[15200,19400],[14100,19500],[14300,19300],[1000,19000],[1500,19300],[2500,19200],[3000,19300],[4000,19100],[4500,19200],[5100,19400],[6000,19300],[8300,19000],[8700,19000],[9000,19400],[10200,19100],[12200,19100],[13200,19200],[13600,19200],[14800,18500],[15600,18500],[16500,18200],[17000,18000],
  [100,12800],[300,12400],[600,13000],[1000,12600],[1400,12900],[1800,12700],[3300,12600],[3500,12500],[4100,12700],[4400,12300],[4800,12600],[5400,13000],[5700,12700],[6100,12300],[6400,12500],[6800,12400],[7200,13000],[7800,12800],[8400,12700],[8900,12300],[9600,12600],[10000,12400],[10600,13000],[11200,12900],[11700,12900],[12300,12300],[13100,12600],[13700,12500],[14100,12300],[14400,12500],[15000,12800],[15400,12300],[16300,12800],[16800,12600],[17100,12200],
  [700,13700],[1000,13300],[1500,13700],[1900,14000],[2400,13800],[3000,13200],[3400,14000],[4000,13500],[4500,13200],[4900,13900],[5300,13500],[5800,14100],[6100,13400],[6500,14000],[7100,14000],[7400,13500],[7900,14200],[8500,13400],[9000,13800],[9600,14000],[10000,13400],[10500,13800],[13000,13200],[13600,13400],[14200,13200],[14800,13700],[15400,13500],[16000,13800],[16600,13400],[17000,14000]];
const p8GrayDots = [[12050,5300],[13700,5700],[11900,6200],[11500,6300],[11300,6100],[9900,6550],[10100,6400],[10600,6600],[10800,6500],[11000,6600],[12500,6700],[14000,7000],[8050,6800],[8200,7000],[6600,6800],[6700,7200],[7000,7500],[5000,7400],[4600,7500],[5700,7500],[6000,7400],[9800,7500],[10200,7500],[10700,7400],[11200,7600],[12300,7500],[13600,7400],[14000,7500],[15000,7700],[15700,7800],
  [300,8000],[600,8100],[1000,8200],[1300,7800],[1500,7600],[1800,8000],[2200,8000],[2800,7800],[3200,7700],[3500,7900],[3800,7700],[4200,8000],[5200,8000],[7100,7700],[7600,8000],[8500,8000],[9100,8100],[9700,8000],[10500,7900],[11600,8100],[13000,8100],[14600,8000],[15200,8200],[16100,8100],[16600,8200],[17000,8400],
  [300,8600],[1000,8700],[2300,8600],[3500,8400],[4500,8500],[5200,8400],[6300,8500],[7300,8500],[8000,8400],[9300,8300],[10400,8500],[11400,8400],[12300,8300],[12900,8200],[14000,8300],[15000,8500],[16000,8500],
  [200,10100],[600,10000],[1200,10100],[2200,10100],[3600,10200],[4500,10100],[6000,10200],[7000,10200],[8000,10200],[9100,10100],[10200,10200],[11000,10100],[12300,10200],[13100,10200],[14300,10100],[15500,10100],[16300,10200]];

const p9Title = 'F/R=1.0μM  P=0.4μM';
const p9Gates = [12880, 11908];
const p9Events = [0,1000,2000,3000,4000,5000,6000,7000,8000,9000,9500,10000,11000,12000,13000,13500,14000,15000,16000,17000,18000,19290];
const p9BlueTop = [16800,17800,18000,17900,17800,17900,17500,17300,17400,17800,18200,18000,17800,17700,17400,17000,17000,17900,17800,17300,17400,17200];
const p9BlueLow = [14500,14600,14300,14500,14700,14300,14700,14700,15000,15000,14900,14700,15000,14800,14700,14000,14000,14200,14300,14300,14300,14400];
const p9GrayTop = [10400,10300,10400,10500,10500,10300,10100,9500,9700,10000,10200,10400,10700,10800,10700,10700,10900,10900,10700,10500,10400,10300];
const p9GrayLow = [9500,9600,9500,9500,9200,9400,9100,9000,9300,9500,9500,9500,9500,9400,9500,9400,9700,9600,9500,9500,9600,9500];
const p9BlueEdge = [[200,17500],[500,18000],[800,18000],[1300,18400],[1800,18200],[2400,18300],[2900,18600],[3400,18400],[3900,18200],[4400,18200],[4900,18200],[5400,18200],[5900,18100],[6400,17900],[6900,17900],[7400,17800],[7900,18000],[8400,18200],[8900,18200],[9400,18700],[9900,18400],[10400,18200],[10900,18200],[11400,18000],[11900,18200],[12400,17900],[12900,17800],[13400,17400],[13900,17300],[14400,17800],[14900,18100],[15400,18100],[15900,18200],[16400,18000],[16900,17800],[17400,17800],[17900,17800],[18400,18000],[18900,18100],[19200,18100],
  [200,13600],[600,14200],[1000,14000],[1500,14100],[2000,13800],[2500,14100],[3000,14000],[3500,14200],[4000,14000],[4500,14000],[5000,13800],[5500,14200],[6000,14200],[6500,14300],[7000,14200],[7500,14400],[8000,14500],[8500,14500],[9000,14300],[9500,14500],[10000,14000],[10500,14300],[11000,14600],[11500,14400],[12000,14300],[12500,14000],[13000,14100],[13500,13500],[14000,13500],[14500,13800],[15000,13700],[15500,13800],[16000,13800],[16500,13800],[17000,13700],[17500,13800],[18000,13900],[18500,13700],[19000,13900]];
const p9GrayEdge = [[300,10600],[1500,10700],[2500,10800],[3300,10900],[4300,10800],[5000,10700],[6300,10500],[7000,10000],[7700,10000],[8800,10400],[10000,10600],[11000,11000],[12000,11000],[13000,11000],[14200,11100],[15000,11100],[16000,11000],[17000,10800],[18000,10800],[18800,10700]];
const p9BlueDots = [[7950,20800],[10400,20750],[11100,20750],[11450,20700],[9900,20200],[3950,20200],[7650,20200],[11250,20050],[15000,20150],[16100,20150],[16650,19850],[6300,19850],[8800,19800],[9800,19600],[11500,19600],[2500,19600],[4400,19700],[5800,19600],[6100,19400],[7400,19200],[9500,19600],[10700,19300],[11100,19200],[12500,19500],[13200,19500],[14300,19200],[17400,19600],[17900,19600],[18500,19500],[19200,19500],[4900,19300],[3700,19100],[8200,19200],[12000,19300],[2800,19000],[13800,18900],[15400,18700],[16000,18800],[18000,18600],[19000,18900],[300,18000],[1000,18100],[1900,18500],
  [400,13100],[700,13300],[1300,13100],[2000,13000],[2500,13300],[3300,13000],[3900,13200],[4400,13000],[5000,13200],[5500,13100],[6200,13200],[6700,13100],[7100,13000],[8000,13600],[8500,13500],[9000,13200],[9800,13400],[10500,13300],[11100,13400],[11700,13100],[12500,13300],[13100,13100],[13700,13300],[14200,13100],[14800,13100],[15500,13200],[16000,13100],[16900,13200],[17500,13100],[18300,13300],[19000,13100],
  [200,13700],[800,13900],[1300,14100],[1800,13800],[2600,14000],[3000,13500],[3600,14200],[4200,13800],[4900,14000],[5400,13600],[5900,14300],[6600,14000],[7300,14300],[7700,13800],[8700,14000],[9200,14200],[10200,14300],[11000,14000],[11600,13700],[12300,14100],[12900,13700],[13500,13600],[14500,13500],[15200,13800],[15900,13600],[16500,13700],[17300,13500],[18000,13800],[18700,13600]];
const p9GrayDots = [[3950,7700],[9900,7800],[10000,7300],[10200,7750],[2750,8050],[2850,8100],[3000,8150],[6650,8050],[8250,8400],[8400,8300],[8750,8200],[13650,8100],[13800,8000],[13900,8050],[15300,8400],[4300,8400],[2400,8600],[3600,8500],[11700,8500],[12300,8500],[17800,8700],[16000,8800],[14800,8600],
  [300,11400],[400,11100],[800,11500],[1600,11200],[2300,11400],[3600,11300],[3900,11400],[4300,11500],[4700,11400],[5500,11300],[5800,11500],[6500,11400],[7400,11500],[7800,11500],[8500,11400],[9300,11100],[10300,11100],[11500,11300],[12000,11400],[12700,11500],[13400,11400],[14200,11500],[14800,11500],[15100,11500],[16100,11400],[17000,11300],[17700,11300],[18400,11400],[18900,11400],[19200,11500],
  [1500,10800],[2700,10900],[3500,10800],[4500,10900],[5200,11000],[6000,10800],[6800,10800],[7400,10300],[8000,10100],[8500,10500],[9200,10700],[9900,10500],[11200,11000],[12000,10900],[13000,11000],[14600,11100],[15500,11100],[16400,11000],[17200,11000],[18200,10900],
  [1900,9200],[2200,9000],[3200,9100],[4100,8900],[5000,8800],[5800,8900],[6200,8800],[6900,8700],[7300,8900],[7700,8800],[8900,9000],[9400,8900],[10500,9000],[11000,9100],[12000,9200],[12800,9000],[13400,9000],[14200,8900],[15000,9000],[15900,9000],[16700,9200],[17600,9200],[18300,9000],[19000,9100]];

const p10Title = '58℃';
const p10Gates = [13425, 12750];
const p10Events = [0,500,1000,1500,2000,2500,3000,4000,5000,6000,6500,7000,7700,8500,9000,9500,10000,10300,10800,11200,11800,12500,13118];
const p10BlueTop = [16100,16500,17000,17300,17700,18200,18300,18000,18300,18400,18800,19000,19200,18900,18700,18600,17600,17300,18300,19300,19700,19200,18600];
const p10BlueLow = [13900,14200,14300,14400,14500,14600,14600,14700,14700,14900,14900,15000,14900,14900,14700,14800,14600,14300,14500,14500,14300,14500,14700];
const p10GrayTop = [];
const p10GrayLow = [];
const p10BlueEdge = [[300,16500],[800,17000],[1200,17300],[1700,17700],[2200,18200],[2700,18600],[3300,18500],[3700,18400],[4300,18500],[4700,18500],[5300,18600],[5700,18800],[6200,19100],[6600,19100],[7300,19300],[8100,19200],[8800,19000],[9300,19000],[9700,18500],[10500,17500],[11000,19000],[11400,19600],[12200,19600],[12800,19000],
  [200,13800],[700,14000],[1200,14100],[1700,14000],[2200,14300],[2700,14200],[3200,14300],[3700,14300],[4200,14100],[4700,14300],[5200,14400],[5700,14500],[6200,14500],[6700,14500],[7200,14300],[7700,14400],[8200,14500],[8700,14300],[9200,14200],[9700,14400],[10200,14000],[10700,14200],[11200,14200],[11700,13900],[12200,14000],[12700,14400]];
const p10GrayEdge = [];
const p10BlueDots = [[2780,20000],[2400,19200],[4900,19400],[6950,19850],[7400,19700],[7700,19700],[8300,19700],[8800,19700],[9500,19800],[11850,20200],[11100,19900],[7050,19300],[6300,19100],[500,17400],[750,17700],[200,16300],[4300,18900],[4500,18900],[2000,18300],[5500,18700],[8000,19300],[12600,19400],
  [200,13800],[800,13800],[1300,13900],[1900,13800],[2800,13800],[3000,13900],[3500,13900],[3800,13800],[4200,13800],[4400,14000],[4800,13700],[5100,13900],[5500,14000],[6000,14200],[6300,14200],[6900,13900],[7400,13800],[7500,14400],[7800,14100],[8500,13500],[8700,14000],[9000,13700],[9400,13900],[9900,13800],[10300,14000],[10800,13700],[11100,13900],[11400,13900],[11800,13600],[12000,13800],[12400,13900],[12700,14000],[13050,13700],[12600,14300]];
const p10GrayDots = [[7450,7450],[7550,7900],[7900,7500],[8000,7250],[300,8650],[1400,9100],[3650,8800],[4050,9100],[9950,8700],[10650,9200],[12050,9000],[12500,8200],[12650,8800],[12850,8950],
  [50,10300],[150,10100],[200,9800],[250,10200],[500,10800],[700,10200],[800,10000],[900,9900],[950,10300],[950,10800],[1300,9900],[1500,9700],[1600,10200],[1700,10200],[2100,10700],[2650,9800],[2650,10500],[3100,10300],[3200,10500],[3300,10000],[3400,10700],[3500,10100],[3700,10600],[3800,10600],[4050,10200],[4100,10100],[4200,10700],[4400,9700],[4400,10400],[4500,10200],[4700,10400],[4800,10500],[5050,9800],[5350,10700],[5500,10100],[5700,9900],[6100,11000],[6300,10800],[6900,10600],[7200,10500],[8300,9800],[8500,10300],[8500,10100],[9200,9700],[9300,10600],[9450,10000],[9550,10200],[10000,10700],[10900,10100],[11050,9700],[11100,10200],[12100,10000],[12200,10600],[12400,10500],[12400,10000],[12650,10500],[12900,10400],[13000,10800],[13100,10800],
  [100,11800],[300,11800],[400,11700],[500,11800],[600,12300],[700,12000],[900,12300],[950,11500],[1200,11300],[1300,11700],[1400,12000],[1500,11900],[1600,11500],[1700,12100],[1850,11200],[2000,11900],[2200,11300],[2300,11600],[2500,11100],[2600,11300],[2800,11300],[2900,11000],[2200,12500],[2700,12300],[3000,12000],[3200,12300],[3400,11300],[3500,12000],[3600,12400],[3800,11700],[4000,12100],[4300,12300],[4500,11600],[4600,12100],[4800,11800],[4900,11300],[5100,12200],[5300,12400],[5500,12100],[5600,11800],[5700,11500],[5900,12000],[6100,11200],[6300,12000],[6400,11500],[6500,11700],[6600,11200],[6700,12400],[6800,11300],[7000,11800],[7100,12000],[7200,11800],[7300,11700],[7400,11700],[7500,11900],[7600,11800],[7700,11800],[7800,11700],[7900,11600],[8000,11800],[8100,11400],[8200,11900],[8300,11300],[8500,11700],[8800,12300],[9000,11800],[9100,11400],[9300,12000],[9400,11500],[9500,11700],[9600,11200],[9700,11900],[9800,11500],[9900,11600],[10000,12200],[10100,11400],[10400,12300],[10650,11800],[11000,11300],[11100,11200],[11200,11500],[11350,12000],[11500,11700],[11900,11900],[12000,12300],[12100,11600],[12300,12000],[12400,11500],[12500,12200],[12600,11700],[12800,11800],[12900,11700],[13050,11200]];

const p11Title = '60℃';
const p11Gates = [11525, 9875];
const p11Events = [0,500,1000,1500,2000,3000,4000,5000,6000,7000,8000,9000,10000,11000,12000,13000,14000,15000,16000,17000,18378];
const p11BlueTop = [16300,16700,17300,17700,18100,18200,18400,18500,18300,18500,18100,18000,18400,18500,18300,18100,18300,18300,17800,17300,16300];
const p11BlueLow = [13900,14000,14000,14700,15000,15000,15000,15300,15400,15400,15500,15600,15800,15700,15300,15000,14700,14500,14800,15000,14800];
const p11GrayTop = [9400,9500,9400,9400,9400,9200,9300,9300,9300,9300,9200,9500,9500,9600,9400,9300,9300,9200,9300,9300,9100];
const p11GrayLow = [8000,8000,8000,8000,8000,8000,7900,8100,8100,8000,8000,8200,8000,8100,8100,8000,7900,8000,8100,8100,8100];
const p11BlueEdge = [[300,17300],[700,17800],[1200,18000],[1700,18400],[2200,18600],[2700,18800],[3200,18500],[3700,18700],[4200,18800],[4700,18900],[5200,18900],[5700,18700],[6200,18700],[6700,18800],[7200,18900],[7700,18900],[8200,18700],[8700,18500],[9200,18300],[9700,18700],[10200,18800],[10700,18900],[11200,18900],[11700,18700],[12200,18700],[12700,18600],[13200,18500],[13700,18600],[14200,18700],[14700,18500],[15200,18400],[15700,18100],[16200,17900],[16700,17700],[17200,17500],[17700,17000],[18100,16700],
  [200,13400],[600,13500],[900,13200],[1300,14000],[1800,14300],[2300,14500],[2800,14500],[3300,14600],[3800,14500],[4300,14500],[4800,14800],[5300,14900],[5800,15000],[6300,15000],[6800,15000],[7300,15100],[7800,15000],[8300,15200],[8800,15300],[9300,15400],[9800,15300],[10300,15500],[10800,15200],[11300,15000],[11800,14800],[12300,14700],[12800,14400],[13300,14200],[13800,14100],[14300,14000],[14800,14000],[15300,14100],[15800,14200],[16300,14300],[16800,14400],[17300,14300],[17800,14300],[18200,14200]];
const p11GrayEdge = [[400,9700],[1200,9600],[2100,9700],[3000,9500],[4000,9600],[5000,9600],[6000,9500],[7000,9600],[8000,9500],[8900,9700],[9800,9800],[10500,9900],[11300,9700],[12200,9700],[13200,9500],[14200,9600],[15300,9500],[16200,9500],[17100,9500],[18100,9300],
  [300,7800],[800,7800],[1500,7900],[2300,7800],[3200,7700],[3800,7600],[4600,7600],[5500,7900],[6500,7800],[7600,7700],[8500,7900],[9500,7800],[10400,7800],[11400,7900],[12300,7700],[13300,7500],[14000,7700],[14800,7700],[15700,7800],[16600,7900],[17500,7900],[18200,8000]];
const p11BlueDots = [[8900,20200],[10000,20200],[5950,19900],[2650,19500],[3100,19300],[7400,19500],[8100,19500],[8700,19200],[6900,19200],[5100,19000],[15200,18900],[15800,19000],[16700,18700],[13000,18900],[12300,18900],[1000,18400],[1300,18500],[2300,18700],[4200,18800],[9900,18700],[11000,18700],[14300,18700],[17300,17600],
  [200,12000],[400,11900],[700,11800],[1000,12000],[1500,11800],[1700,12100],[2500,11700],[2700,12100],[3000,12000],[3700,11900],[4700,11700],[4800,12300],[5800,12100],[6000,12000],[6200,11800],[6500,12500],[7000,11800],[7500,11900],[8200,11900],[8500,12300],[8900,12500],[9200,12200],[10100,12500],[10800,11800],[11000,12000],[11900,11800],[12400,11800],[13000,12400],[14000,12100],[14500,12000],[15400,12000],[16000,12300],[16500,11700],[17200,11700],[18100,12000],[18300,12500],
  [300,13000],[800,13300],[1100,12700],[1500,13000],[1900,13500],[2200,13300],[2500,12900],[2800,13800],[3100,12900],[3600,14000],[4000,13300],[4500,13800],[4800,14500],[5200,13200],[5500,13900],[5900,12800],[6200,14400],[6500,13300],[6800,14200],[7100,13000],[7500,14000],[7900,13300],[8200,14400],[8600,13700],[9000,13200],[9300,14500],[9600,13500],[9900,14200],[10300,13300],[10700,14600],[11200,13500],[11600,14300],[12000,13400],[12400,14200],[12800,13200],[13200,14000],[13700,13300],[14200,13700],[14600,13000],[15000,13500],[15400,13100],[15800,13800],[16300,13000],[16700,13600],[17100,13200],[17600,13700],[18000,13300],
  [500,12500],[1300,12500],[1800,12600],[2100,13900],[2400,14000],[3300,13500],[3400,12500],[4200,14300],[5000,14000],[5700,14300],[6000,13700],[6400,12700],[6900,13500],[7300,14500],[7800,12700],[8100,13700],[8400,13100],[8800,14200],[9100,13900],[9400,12800],[9800,13000],[10000,14700],[10500,14000],[11000,13100],[11400,13800],[11800,13000],[12200,13500],[12600,13800],[13000,13300],[13500,13800],[14000,13000],[14400,13300],[15200,13700],[16000,13400],[16500,12700],[17300,13500],[17800,13000]];
const p11GrayDots = [[3700,7250],[11700,7250],[12900,7500],[13000,7600],[13900,7700],[14900,7700],[15200,7600],[5400,7700],[4500,7600],[3100,7700],[16100,7800],
  [300,9700],[1100,9700],[2300,9700],[3100,9700],[4400,9600],[5900,9800],[7300,9700],[8300,9700],[9600,9700],[10600,9800],[11100,9800],[11500,9700],[12000,9600],[13000,9700],[14300,9600],[15100,9700],[15700,9700],[16400,9600],[17000,9500],[18000,9500]];

const p12Title = '62℃';
const p12Gates = [11825, 10700];
const p12Events = [0,500,1000,2000,3000,4000,5000,6000,7000,8000,9000,10000,11000,12000,13000,14000,15000,16000,17000,17833];
const p12BlueTop = [16600,16500,16700,16800,16700,16800,17000,17300,17400,17200,17000,17000,16800,17000,17100,17000,16900,16600,16300,16100];
const p12BlueLow = [11900,12000,12800,13000,13300,13400,13800,14000,14100,14000,14100,14000,14000,13600,13500,13500,13500,13500,13200,12400];
const p12GrayTop = [10500,10500,10500,10500,10500,10500,10500,10500,10500,10500,10500,10500,10500,10500,10500,10500,10500,10500,10500,10300];
const p12GrayLow = [8700,8600,8500,8300,8200,8000,8000,8200,8100,8100,8000,7900,7900,7800,7900,8100,8200,8500,8900,9200];
const p12BlueEdge = [[200,17200],[600,17500],[900,17100],[1400,17800],[1900,17500],[2400,17700],[2900,17600],[3400,17500],[3900,17800],[4400,17700],[4900,17700],[5400,17800],[5900,17700],[6400,17800],[6900,18000],[7400,17800],[7900,17700],[8400,17600],[8900,17700],[9400,17600],[9900,17800],[10400,17600],[10900,17500],[11400,17400],[11900,17800],[12400,17700],[12900,17700],[13400,17800],[13900,17500],[14400,17600],[14900,17400],[15400,17500],[15900,17400],[16400,17300],[16900,17300],[17400,17000],
  [200,12000],[600,12400],[1000,12300],[1500,12900],[2000,12700],[2500,12600],[3000,12900],[3500,13100],[4000,13000],[4500,13100],[5000,13300],[5500,13500],[6000,13500],[6500,13600],[7000,13700],[7500,13500],[8000,13700],[8500,13400],[9000,13600],[9500,13700],[10000,13600],[10500,13600],[11000,13400],[11500,13100],[12000,13100],[12500,13000],[13000,13000],[13500,13100],[14000,13000],[14500,13100],[15000,13100],[15500,13000],[16000,13000],[16500,12900],[17000,12700],[17500,12200]];
const p12GrayEdge = [[200,8400],[700,8200],[1200,8100],[1800,8000],[2400,7900],[3000,7900],[3600,7800],[4200,7800],[4800,7800],[5400,8000],[6000,7900],[6600,7900],[7200,7900],[7800,7900],[8400,7900],[9000,7800],[9600,7800],[10200,7700],[10800,7700],[11400,7700],[12000,7600],[12600,7700],[13200,7800],[13800,7900],[14400,8000],[15000,8100],[15600,8200],[16200,8400],[16800,8700],[17400,9000]];
const p12BlueDots = [[3600,20200],[10900,20300],[8900,19900],[4650,19500],[5400,19800],[1450,19400],[4900,19000],[12150,19100],[10650,18800],[8350,18800],[9500,18500],[12000,18700],[5200,18500],[3700,18500],[16800,18600],[7000,18300],[15800,18200],[1100,18400],[1700,18100],[2500,18000],[3100,18300],[4500,18300],[5500,18200],[7200,18000],[9100,18100],[10000,18000],[11200,18200],[12500,18200],[13000,18200],[14000,18000],[14900,18200],[16000,18000],[16500,18100],[17400,17500],[600,17600],
  [300,12300],[700,12100],[1200,12000],[1700,12700],[2200,12400],[2500,12000],[2900,12700],[3300,12300],[3800,12800],[4000,12200],[4400,12500],[4800,12000],[5200,13000],[5500,12300],[5900,12000],[6300,12700],[6700,12200],[7100,12800],[7500,12000],[7900,12600],[8300,12100],[8700,12900],[9100,12300],[9500,12000],[9900,12800],[10300,12200],[10700,12700],[11100,12100],[11500,12500],[11900,12000],[12300,12800],[12700,12300],[13100,12100],[13500,12700],[13900,12200],[14300,12800],[14700,12100],[15100,12600],[15500,12000],[15900,12700],[16300,12100],[16700,12500],[17100,12000],[17500,12100],
  [1500,12300],[2700,12200],[3500,12600],[4200,12800],[4600,12200],[5000,12600],[5700,12800],[6100,12500],[6500,13100],[6900,12400],[7300,13000],[7700,12400],[8100,13000],[8500,12500],[8900,12100],[9300,12700],[9700,13000],[10100,12500],[10500,13000],[10900,12400],[11300,12800],[11700,12300],[12100,12600],[12500,12200],[12900,12500],[13300,12300],[13700,12400],[14100,12600],[14500,12400],[14900,12300],[15300,12500],[15700,12300],[16100,12500],[16500,12200],[16900,12300]];
const p12GrayDots = [[400,7800],[800,7700],[300,7900],[1200,7900],[2000,8000],[3200,7800],[4600,7700],[5400,7900],[8000,7900],[9500,7700],[10000,7700],[11500,7700],[12300,7800],[13100,7700],[14300,7800],[10700,7700],[15000,8000],[15500,8100],[6000,8000],[7000,7900]];

// ---- layout of the sheet, in page pixels ----
const plotBoxes = [
  [292,1481,39,821],[1720,2910,31,813],[3194,4384,44,825],
  [292,1481,997,1779],[1763,2954,997,1778],[3193,4383,999,1780],
  [292,1481,1959,2741],[1763,2954,1959,2741],[3210,4400,1961,2742],
  [292,1481,3150,3931],[1762,2954,3151,3932],[3191,4383,3150,3930]
];
const titleSpots = [
  [373,141],[1820,141],[3276,141],
  [371,1109],[1871,1108],[3334,1109],
  [373,2080],[1873,2080],[3346,2081],
  [766,3288],[2274,3290],[3734,3290]
];
const xMaxes = [19150,17670,19003,16615,21085,16679,17640,17218,19290,13118,18378,17833];
const xMajorSteps = [5000,5000,5000,2000,5000,2000,5000,2000,5000,2000,5000,5000];
const xMinorSteps = [1000,1000,1000,500,1000,500,1000,500,1000,500,1000,1000];
const yMajorSteps = [5000,5000,5000,5000,2000,5000,5000,5000,5000,5000,5000,5000];
const yMinorSteps = [1000,1000,1000,1000,400,1000,1000,1000,1000,1000,1000,1000];

const panels = [
  [p1Title,p1Gates,p1Events,p1BlueTop,p1BlueLow,p1GrayTop,p1GrayLow,p1BlueDots.concat(p1BlueEdge),p1GrayDots.concat(p1GrayEdge)],
  [p2Title,p2Gates,p2Events,p2BlueTop,p2BlueLow,p2GrayTop,p2GrayLow,p2BlueDots.concat(p2BlueEdge),p2GrayDots.concat(p2GrayEdge)],
  [p3Title,p3Gates,p3Events,p3BlueTop,p3BlueLow,p3GrayTop,p3GrayLow,p3BlueDots.concat(p3BlueEdge),p3GrayDots.concat(p3GrayEdge)],
  [p4Title,p4Gates,p4Events,p4BlueTop,p4BlueLow,p4GrayTop,p4GrayLow,p4BlueDots.concat(p4BlueEdge),p4GrayDots.concat(p4GrayEdge)],
  [p5Title,p5Gates,p5Events,p5BlueTop,p5BlueLow,p5GrayTop,p5GrayLow,p5BlueDots.concat(p5BlueEdge),p5GrayDots.concat(p5GrayEdge)],
  [p6Title,p6Gates,p6Events,p6BlueTop,p6BlueLow,p6GrayTop,p6GrayLow,p6BlueDots.concat(p6BlueEdge),p6GrayDots.concat(p6GrayEdge)],
  [p7Title,p7Gates,p7Events,p7BlueTop,p7BlueLow,p7GrayTop,p7GrayLow,p7BlueDots.concat(p7BlueEdge),p7GrayDots.concat(p7GrayEdge)],
  [p8Title,p8Gates,p8Events,p8BlueTop,p8BlueLow,p8GrayTop,p8GrayLow,p8BlueDots.concat(p8BlueEdge),p8GrayDots.concat(p8GrayEdge)],
  [p9Title,p9Gates,p9Events,p9BlueTop,p9BlueLow,p9GrayTop,p9GrayLow,p9BlueDots.concat(p9BlueEdge),p9GrayDots.concat(p9GrayEdge)],
  [p10Title,p10Gates,p10Events,p10BlueTop,p10BlueLow,p10GrayTop,p10GrayLow,p10BlueDots.concat(p10BlueEdge),p10GrayDots.concat(p10GrayEdge)],
  [p11Title,p11Gates,p11Events,p11BlueTop,p11BlueLow,p11GrayTop,p11GrayLow,p11BlueDots.concat(p11BlueEdge),p11GrayDots.concat(p11GrayEdge)],
  [p12Title,p12Gates,p12Events,p12BlueTop,p12BlueLow,p12GrayTop,p12GrayLow,p12BlueDots.concat(p12BlueEdge),p12GrayDots.concat(p12GrayEdge)]
];

const BLUE = '#1E90FF', GRAY = '#808080', RED = '#F5101E', PLOT_BG = '#F4F3F4';
const MARGIN_LEFT = 200, MARGIN_RIGHT = 22, MARGIN_TOP = 26, MARGIN_BOTTOM = 126;

// plot background, outer frame and the long/short tick marks on all four sides
const plotFrame = {
  id: 'plotFrame',
  beforeDraw(chart) {
    const { ctx, chartArea: a } = chart;
    ctx.save();
    ctx.fillStyle = PLOT_BG;
    ctx.fillRect(a.left, a.top, a.right - a.left, a.bottom - a.top);
    ctx.restore();
  },
  afterDatasetsDraw(chart, args, opts) {
    const { ctx, chartArea: a, scales } = chart;
    const mark = (x1, y1, x2, y2, w) => {
      ctx.lineWidth = w;
      ctx.beginPath();
      ctx.moveTo(x1, y1);
      ctx.lineTo(x2, y2);
      ctx.stroke();
    };
    ctx.save();
    ctx.strokeStyle = '#1a1a1a';
    for (let v = 0; v <= scales.x.max; v += opts.xMinor) {
      const px = scales.x.getPixelForValue(v);
      const long = v % opts.xMajor === 0;
      mark(px, a.bottom - 7, px, a.bottom + (long ? 14 : 7), long ? 4 : 3);
      mark(px, a.top - 5, px, a.top + 5, 2);
    }
    for (let v = scales.y.min; v <= scales.y.max; v += opts.yMinor) {
      const py = scales.y.getPixelForValue(v);
      const long = v % opts.yMajor === 0;
      mark(a.left - (long ? 14 : 6), py, a.left + (long ? 13 : 6), py, 3);
      mark(a.right - 6, py, a.right + 1, py, 2);
    }
    ctx.lineWidth = 3;
    ctx.strokeRect(a.left, a.top, a.right - a.left, a.bottom - a.top);
    ctx.restore();
  }
};

function zipPoints(xs, ys) {
  return xs.map((x, i) => ({ x: x, y: ys[i] }));
}

function dotsOf(pairs) {
  return pairs.map(p => ({ x: p[0], y: p[1] }));
}

function majorTicks(from, to, step) {
  const list = [];
  for (let v = from; v <= to; v += step) list.push({ value: v });
  return list;
}

function crearPanel(idx) {
  const [title, gates, events, blueTop, blueLow, grayTop, grayLow, blueDots, grayDots] = panels[idx];
  const [left, right, top, bottom] = plotBoxes[idx];
  const xMax = xMaxes[idx];

  const canvas = document.createElement('canvas');
  canvas.width = right - left + MARGIN_LEFT + MARGIN_RIGHT;
  canvas.height = bottom - top + MARGIN_TOP + MARGIN_BOTTOM;
  canvas.style.left = (left - MARGIN_LEFT) + 'px';
  canvas.style.top = (top - MARGIN_TOP) + 'px';
  document.getElementById('page').appendChild(canvas);

  const band = (pts, color, fill) => ({
    data: pts, showLine: true, fill: fill, pointRadius: 0,
    borderColor: color, backgroundColor: color, borderWidth: 7, borderJoinStyle: 'round', tension: 0
  });
  const dots = (pts, color) => ({
    data: pts, showLine: false, pointRadius: 6, pointBorderWidth: 0,
    pointBackgroundColor: color, pointHoverRadius: 0
  });
  const gate = y => ({
    data: [{ x: 0, y: y }, { x: xMax, y: y }], showLine: true, pointRadius: 0,
    borderColor: RED, borderWidth: 10, borderCapStyle: 'butt', fill: false
  });

  const datasets = [gate(gates[0]), gate(gates[1]), dots(dotsOf(blueDots), BLUE), dots(dotsOf(grayDots), GRAY),
    band(zipPoints(events, blueTop), BLUE, '+1'), band(zipPoints(events, blueLow), BLUE, false)];
  if (grayTop.length) {
    datasets.push(band(zipPoints(events, grayTop), GRAY, '+1'), band(zipPoints(events, grayLow), GRAY, false));
  }

  new Chart(canvas, {
    type: 'line',
    data: { datasets: datasets },
    plugins: [plotFrame],
    options: {
      responsive: false,
      animation: false,
      devicePixelRatio: 1,
      events: [],
      layout: { padding: { top: MARGIN_TOP, right: MARGIN_RIGHT } },
      plugins: {
        legend: { display: false },
        tooltip: { enabled: false },
        plotFrame: { xMinor: xMinorSteps[idx], xMajor: xMajorSteps[idx], yMinor: yMinorSteps[idx], yMajor: yMajorSteps[idx] }
      },
      scales: {
        x: {
          type: 'linear', min: 0, max: xMax,
          afterBuildTicks: axis => { axis.ticks = majorTicks(0, xMax, xMajorSteps[idx]); },
          afterFit: axis => { axis.height = MARGIN_BOTTOM; axis.paddingLeft = 0; axis.paddingRight = 0; },
          grid: { color: '#666', lineWidth: 2, drawTicks: false },
          border: { display: false, dash: [2, 14] },
          ticks: { autoSkip: false, maxRotation: 0, padding: 24, color: '#222', font: { family: '"Liberation Sans"', size: 36 }, callback: v => String(v) },
          title: { display: true, text: 'Event Number', padding: 0, color: '#111', font: { family: '"Liberation Sans"', size: 36, weight: 'bold' } }
        },
        y: {
          type: 'linear', min: 3000, max: 25000,
          afterBuildTicks: axis => {
            axis.ticks = yMajorSteps[idx] === 2000 ? majorTicks(4000, 24000, 2000) : majorTicks(5000, 25000, 5000);
          },
          afterFit: axis => { axis.width = MARGIN_LEFT; axis.paddingTop = 0; axis.paddingBottom = 0; },
          grid: { color: '#111', lineWidth: 3, drawTicks: false },
          border: { display: false, dash: [3, 13] },
          ticks: { autoSkip: false, padding: 34, color: '#222', font: { family: '"Liberation Sans"', size: 36 }, callback: v => String(v) },
          title: { display: true, text: 'FAM Amplitude', padding: 0, color: '#111', font: { family: '"Liberation Sans"', size: 36, weight: 'bold' } }
        }
      }
    }
  });

  const label = document.createElement('div');
  label.className = 'label';
  label.textContent = title;
  label.style.left = titleSpots[idx][0] + 'px';
  label.style.top = (titleSpots[idx][1] - 98) + 'px';
  document.getElementById('page').appendChild(label);
}

function ponerLetra(text, x, baseline) {
  const el = document.createElement('div');
  el.className = 'letter';
  el.textContent = text;
  el.style.left = x + 'px';
  el.style.top = (baseline - 68) + 'px';
  document.getElementById('page').appendChild(el);
}

panels.forEach((p, i) => crearPanel(i));
ponerLetra('A', 5, 78);
ponerLetra('B', 5, 3115);

// the window comes out narrower than the sheet (4096 wide here), squeeze so the right column stays in view
if (window.innerWidth < 4411) {
  document.getElementById('page').style.transform = 'scaleX(' + (window.innerWidth / 4411) + ')';
}
</script>
</body>
</html>
